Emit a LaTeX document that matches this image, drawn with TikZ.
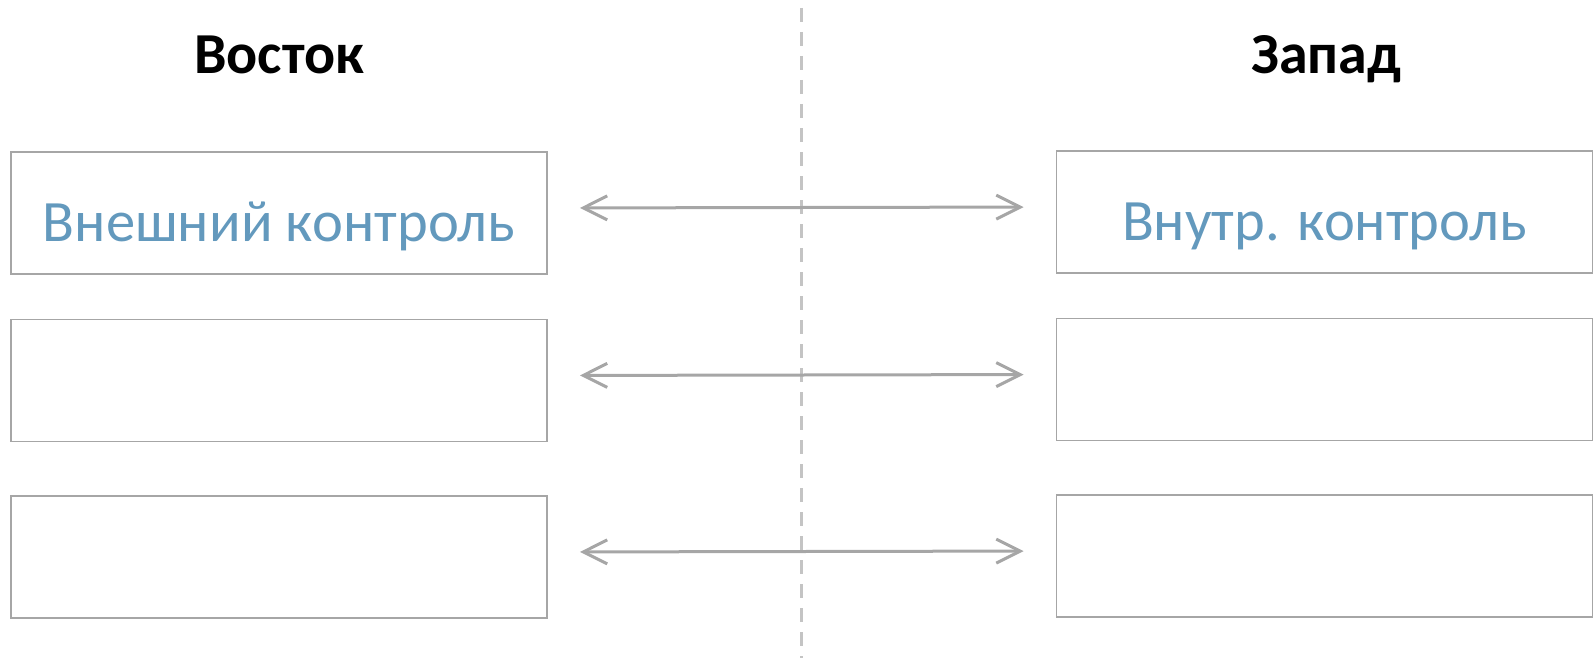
\documentclass[tikz,border=0pt]{standalone}
\usepackage{fontspec}
\setmainfont{Carlito}
\usetikzlibrary{arrows.meta}
\definecolor{boxgray}{HTML}{A6A6A6}
\definecolor{dashgray}{HTML}{C4C4C4}
\definecolor{ctrlblue}{HTML}{6399BD}
\begin{document}
\begin{tikzpicture}[x=0.5pt,y=-0.5pt,
ctrlbox/.style={draw=boxgray,rectangle,line width=0.9pt,minimum width=268pt,minimum height=61pt,inner sep=0pt,text height=28pt,text depth=0pt,text=ctrlblue,font=\fontsize{29.3pt}{34pt}\selectfont},
side/.style={anchor=base,font=\bfseries\fontsize{29pt}{34pt}\selectfont},
link/.style={{Straight Barb[length=12pt,width=12pt]}-{Straight Barb[length=12pt,width=12pt]},draw=boxgray,line width=1.5pt,shorten <=16pt,shorten >=16pt},
border/.style={dashgray,line width=1.5pt,dash pattern=on 7pt off 5pt}]
\useasboundingbox (0,0) rectangle (1593,658);

\draw (279,74) node[side] (east) {Восток};
\draw (1326,74) node[side] (west) {Запад};

\coordinate (btop) at (801,8);
\coordinate (bbot) at (801,658);
\draw[border] (btop) -- (bbot);

\draw (279,213) node[ctrlbox] (east1) {Внешний контроль};
\draw (279,380.5) node[ctrlbox] (east2) {};
\draw (279,557) node[ctrlbox] (east3) {};
\draw (1324.5,212) node[ctrlbox] (west1) {Внутр. контроль};
\draw (1324.5,379.5) node[ctrlbox] (west2) {};
\draw (1324.5,556) node[ctrlbox] (west3) {};

\foreach \r in {1,2,3}
  \draw[link] ([yshift=2.5pt]east\r.east) -- ([yshift=2.5pt]west\r.west);
\end{tikzpicture}
\end{document}
